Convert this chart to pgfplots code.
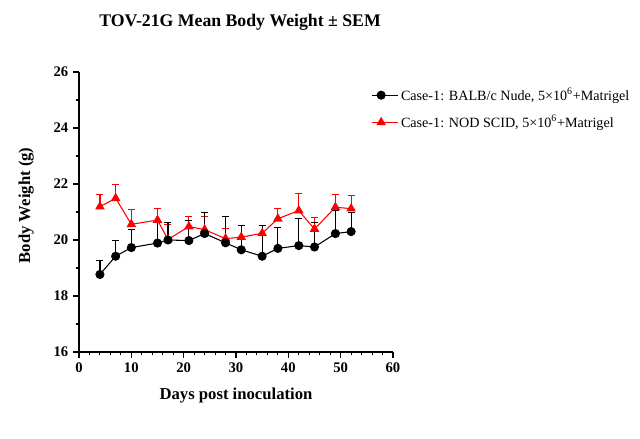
\documentclass[border=0pt]{standalone}
\usepackage{fontspec}
\setmainfont{Liberation Serif}
\usepackage{pgfplots}
\pgfplotsset{compat=1.18}
\usetikzlibrary{calc}

% mean body weight (g) and SEM per group
\pgfplotstableread{
day  w      sem
4    18.77  0.49
7    19.42  0.56
10   19.73  0.65
15   19.89  0.73
17   20.00  0.62
21   19.98  0.73
24   20.23  0.75
28   19.90  0.95
31   19.65  0.86
35   19.42  1.09
38   19.70  0.74
42   19.80  0.96
45   19.75  0.88
49   20.23  0.83
52   20.30  0.69
}\nude
\pgfplotstableread{
day  w      sem
4    21.19  0.44
7    21.49  0.49
10   20.56  0.52
15   20.71  0.41
17   20.02  0.52
21   20.48  0.35
24   20.37  0.46
28   20.05  0.37
31   20.10  0.41
35   20.24  0.28
38   20.76  0.36
42   21.05  0.60
45   20.39  0.41
49   21.17  0.46
52   21.12  0.48
}\scid

\pgfplotsset{
  nudestyle/.style={black, line width=0.8pt, mark=*, mark size=3pt},
  scidstyle/.style={red, line width=0.8pt, mark=triangle*, mark size=3.4pt},
}

\begin{document}
\begin{tikzpicture}
\begin{axis}[
  name=main,
  scale only axis,
  width=235.5pt, height=210pt,
  xmin=0, xmax=60, ymin=16, ymax=26,
  xtick={0,10,...,60}, minor x tick num=4,
  ytick={16,18,...,26}, minor y tick num=1,
  axis x line*=bottom, axis y line*=left,
  axis line style={line width=0.8pt},
  tick align=outside,
  major tick length=4.5pt, minor tick length=2.5pt,
  tick style={line width=0.8pt, black},
  /pgf/number format/assume math mode=true,
  tick label style={font=\fontsize{11}{13}\selectfont\bfseries},
  xlabel={\fontsize{12.5}{14}\selectfont\bfseries Days post inoculation},
  ylabel={\fontsize{12.5}{14}\selectfont\bfseries Body Weight (g)},
  xlabel style={yshift=-5pt},
  ylabel style={yshift=8pt, xshift=5pt},
  clip=false,
  legend cell align=left,
  legend style={at={(0.930,0.95)}, anchor=north west, draw=none, fill=none,
    font=\fontsize{10.6}{13}\selectfont, row sep=7pt, inner sep=0pt,
    nodes={inner sep=1.5pt}},
  legend image code/.code={%
    \path (0pt,0pt) -- (20pt,0pt);
    \draw[#1] (0pt,0pt) -- (14pt,0pt);
    \draw[#1, mark repeat=2, mark phase=2] plot coordinates {(0pt,0pt) (7pt,0pt) (14pt,0pt)};},
]
\addlegendimage{nudestyle}
\addlegendentry{Case-1: BALB/c Nude, 5×10\textsuperscript{6}+Matrigel}
\addlegendimage{scidstyle}
\addlegendentry{Case-1: NOD SCID, 5×10\textsuperscript{6}+Matrigel}
% NOD SCID group
\addplot[scidstyle, forget plot,
  error bars/.cd, y dir=plus, y explicit,
  error bar style={line width=0.9pt, red},
  error mark options={rotate=90, mark size=2.6pt, line width=0.9pt, red}]
  table[x=day, y=w, y error=sem] {\scid};
% BALB/c nude group
\addplot[nudestyle, forget plot,
  error bars/.cd, y dir=plus, y explicit,
  error bar style={line width=0.9pt, black},
  error mark options={rotate=90, mark size=2.6pt, line width=0.9pt, black}]
  table[x=day, y=w, y error=sem] {\nude};
\end{axis}
% title (1px = 0.75pt, origin at the axis' lower left corner)
\node[font=\fontsize{13.3}{15}\selectfont\bfseries] at ($(main.south west)+(120.75pt,247.5pt)$) {TOV-21G Mean Body Weight ± SEM};
% page extent
\pgfresetboundingbox
\path ($(main.south west)+(-59.25pt,-65.25pt)$) rectangle ($(main.south west)+(420.75pt,264pt)$);
\end{tikzpicture}
\end{document}
